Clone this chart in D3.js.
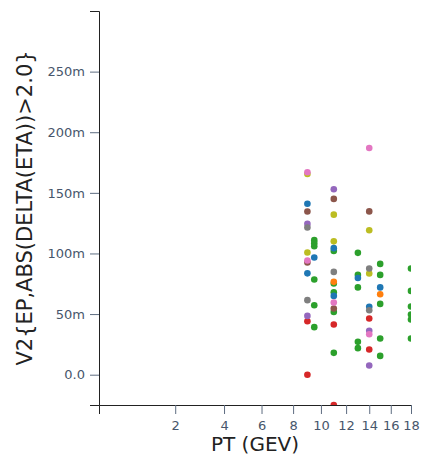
<!DOCTYPE html>
<html>
<head>
<meta charset="utf-8">
<script src="https://cdn.jsdelivr.net/npm/d3@7"></script>
<style>
  html, body { margin: 0; padding: 0; background: #fff; }
  svg { display: block; }
  .tick text { font-family: "DejaVu Sans", sans-serif; font-size: 13px; fill: #47566b; }
  .tick line { stroke: #5d6c80; }
  .domain { stroke: #222; }
  .title { font-family: "DejaVu Sans", sans-serif; font-size: 20px; fill: #222; }
  .title.y { font-size: 21px; }
</style>
</head>
<body>
<svg id="chart" width="421" height="460"></svg>
<script>
// v2 measurements vs pT, one list of [pT, v2] points per dataset
const s0 = [[9, 0.141], [9, 0.0836], [9.5, 0.0967], [11, 0.1044], [11, 0.065], [13, 0.0797], [14, 0.056], [15, 0.072]];
const s1 = [[11, 0.0766], [15, 0.0664]];
const s2 = [[9.5, 0.111], [9.5, 0.1085], [9.5, 0.106], [9.5, 0.0785], [9.5, 0.0573], [9.5, 0.0392],
            [11, 0.102], [11, 0.0752], [11, 0.068], [11, 0.0518], [11, 0.018],
            [13, 0.1005], [13, 0.0823], [13, 0.072], [13, 0.0271], [13, 0.0219],
            [15, 0.0914], [15, 0.0823], [15, 0.0584], [15, 0.0299], [15, 0.0155],
            [18, 0.0876], [18, 0.0691], [18, 0.0563], [18, 0.0497], [18, 0.0455], [18, 0.0299]];
const s3 = [[9, 0.0441], [9, 0.0], [11, 0.0414], [11, -0.025], [14, 0.0464], [14, 0.0208]];
const s4 = [[9, 0.1244], [9, 0.0485], [11, 0.153], [14, 0.0362], [14, 0.0076]];
const s5 = [[9, 0.1346], [9, 0.0926], [11, 0.145], [11, 0.0546], [14, 0.1347]];
const s6 = [[9, 0.167], [9, 0.0942], [11, 0.0596], [14, 0.187], [14, 0.0334]];
const s7 = [[9, 0.1214], [9, 0.0615], [11, 0.0848], [14, 0.0876], [14, 0.0532]];
const s8 = [[9, 0.1655], [9, 0.1008], [11, 0.132], [11, 0.110], [14, 0.1192], [14, 0.0835]];

const allSeries = [s0, s1, s2, s3, s4, s5, s6, s7, s8];
const xTicks = [2, 4, 6, 8, 10, 12, 14, 16, 18];
const yTicks = [0, 0.05, 0.1, 0.15, 0.2, 0.25];
const xDomain = [0.25, 18];
const yDomain = [-0.025, 0.3];
const xTitle = "PT (GEV)";
const yTitle = "V2{EP,ABS(DELTA(ETA))>2.0}";

const plot = { left: 99, right: 411, top: 11, bottom: 405 };
const svg = d3.select("#chart");

const x = d3.scaleSqrt().domain(xDomain).range([plot.left, plot.right]);
const y = d3.scaleLinear().domain(yDomain).range([plot.bottom, plot.top]);
const color = d3.scaleOrdinal(d3.schemeCategory10).domain(d3.range(10));

svg.append("defs").append("clipPath").attr("id", "plot-clip")
  .append("rect").attr("x", plot.left).attr("y", plot.top)
  .attr("width", plot.right - plot.left).attr("height", plot.bottom - plot.top);

svg.append("g")
  .attr("transform", `translate(0,${plot.bottom})`)
  .call(d3.axisBottom(x).tickValues(xTicks).tickFormat(d3.format("d")).tickSize(9).tickPadding(5))
  .call(g => g.selectAll(".tick text").attr("dy", "0.85em"));

svg.append("g")
  .attr("transform", `translate(${plot.left},0)`)
  .call(d3.axisLeft(y).tickValues(yTicks).tickFormat(d3.format(".2s")).tickSize(9).tickPadding(5));

// draw order: later datasets sit under the earlier ones where they overlap
const order = [8, 2, 0, 1, 3, 4, 7, 5, 6];
const dots = svg.append("g").attr("clip-path", "url(#plot-clip)");
order.forEach(i => {
  dots.selectAll(null)
    .data(allSeries[i])
    .enter().append("circle")
    .attr("cx", d => x(d[0]))
    .attr("cy", d => y(d[1]))
    .attr("r", 3.3)
    .attr("fill", color(i));
});

svg.append("text").attr("class", "title")
  .attr("x", (plot.left + plot.right) / 2).attr("y", 451)
  .attr("text-anchor", "middle")
  .text(xTitle);

svg.append("text").attr("class", "title y")
  .attr("transform", `translate(32,${(plot.top + plot.bottom) / 2}) rotate(-90)`)
  .attr("text-anchor", "middle")
  .text(yTitle);
</script>
</body>
</html>
